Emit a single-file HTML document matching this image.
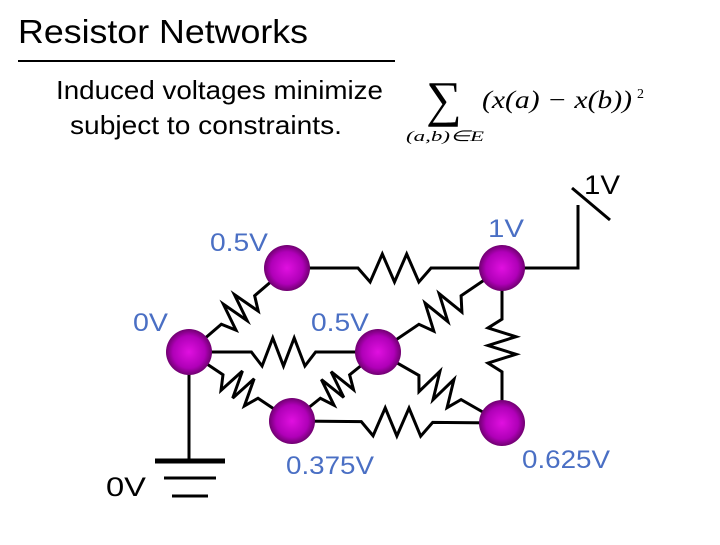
<!DOCTYPE html>
<html><head><style>
body{margin:0;width:720px;height:540px;background:#fff;overflow:hidden;font-family:"Liberation Sans",sans-serif}
</style></head><body>
<svg width="720" height="540" xmlns="http://www.w3.org/2000/svg" id="s">
<defs><radialGradient id="g" cx="0.5" cy="0.5" r="0.5"><stop offset="0" stop-color="#e010e0"/><stop offset="0.7" stop-color="#b000b8"/><stop offset="1" stop-color="#700070"/></radialGradient></defs>
<text x="18" y="43" font-size="33" textLength="290" lengthAdjust="spacingAndGlyphs" font-family="Liberation Sans">Resistor Networks</text>
<line x1="18" y1="61" x2="395" y2="61" stroke="#000" stroke-width="2"/>
<text x="56" y="99" font-size="26" textLength="327" lengthAdjust="spacingAndGlyphs" font-family="Liberation Sans">Induced voltages minimize</text>
<text x="70" y="134" font-size="26" textLength="272" lengthAdjust="spacingAndGlyphs" font-family="Liberation Sans">subject to constraints.</text>
<text x="426" y="116" font-size="50" font-family="Liberation Serif">∑</text>
<text x="482" y="108" font-size="25" textLength="150" lengthAdjust="spacingAndGlyphs" font-family="Liberation Serif" font-style="italic">(x(a) − x(b))</text>
<text x="637" y="98" font-size="14" font-family="Liberation Serif">2</text>
<text x="406" y="141" font-size="15" textLength="78" lengthAdjust="spacingAndGlyphs" font-family="Liberation Serif" font-style="italic">(a,b)∈E</text>
<g fill="#4a6fc4" font-size="25" font-family="Liberation Sans">
<text x="210" y="251" textLength="58" lengthAdjust="spacingAndGlyphs">0.5V</text>
<text x="488" y="237" textLength="36" lengthAdjust="spacingAndGlyphs">1V</text>
<text x="133" y="331" textLength="35" lengthAdjust="spacingAndGlyphs">0V</text>
<text x="311" y="331" textLength="58" lengthAdjust="spacingAndGlyphs">0.5V</text>
<text x="286" y="474" textLength="88" lengthAdjust="spacingAndGlyphs">0.375V</text>
<text x="522" y="468" textLength="88" lengthAdjust="spacingAndGlyphs">0.625V</text>
</g>
<text x="106" y="496" font-size="27" textLength="40" lengthAdjust="spacingAndGlyphs" font-family="Liberation Sans">0V</text>
<text x="584" y="194" font-size="27" textLength="36" lengthAdjust="spacingAndGlyphs" font-family="Liberation Sans">1V</text>
<g stroke="#000" stroke-width="3" fill="none" id="w">
<polyline points="502,268 578,268 578,205"/>
<line x1="572" y1="188" x2="610" y2="220"/>
<line x1="189" y1="352" x2="189" y2="460"/>
<line x1="155" y1="461" x2="225" y2="461" stroke-width="5"/>
<line x1="164" y1="478" x2="216" y2="478"/>
<line x1="172" y1="496" x2="208" y2="496"/>
</g>
<g id="n"></g>
</svg>
<script>
var w=document.getElementById('w'),n=document.getElementById('n');
var N={a:[287,268],b:[502,268],c:[189,352],d:[378,352],e:[292,421],f:[502,423]};
function R(p,q){var A=N[p],B=N[q],dx=B[0]-A[0],dy=B[1]-A[1],L=Math.hypot(dx,dy),ux=dx/L,uy=dy/L,px=-uy,py=ux;
var pts=[A];var s=0.33*L,e=0.67*L,k=6;
for(var i=0;i<=k;i++){var t=s+(e-s)*i/k,a=(i==0||i==k)?0:(i%2?14:-14);pts.push([A[0]+ux*t+px*a,A[1]+uy*t+py*a]);}
pts.push(B);var pl=document.createElementNS('http://www.w3.org/2000/svg','polyline');pl.setAttribute('points',pts.map(function(x){return x.join(',')}).join(' '));w.appendChild(pl);}
R('a','b');R('c','a');R('c','d');R('d','b');R('b','f');R('c','e');R('e','d');R('d','f');R('e','f');
for(var k in N){var c=document.createElementNS('http://www.w3.org/2000/svg','circle');c.setAttribute('cx',N[k][0]);c.setAttribute('cy',N[k][1]);c.setAttribute('r',23);c.setAttribute('fill','url(#g)');n.appendChild(c);}
</script>
</body></html>
